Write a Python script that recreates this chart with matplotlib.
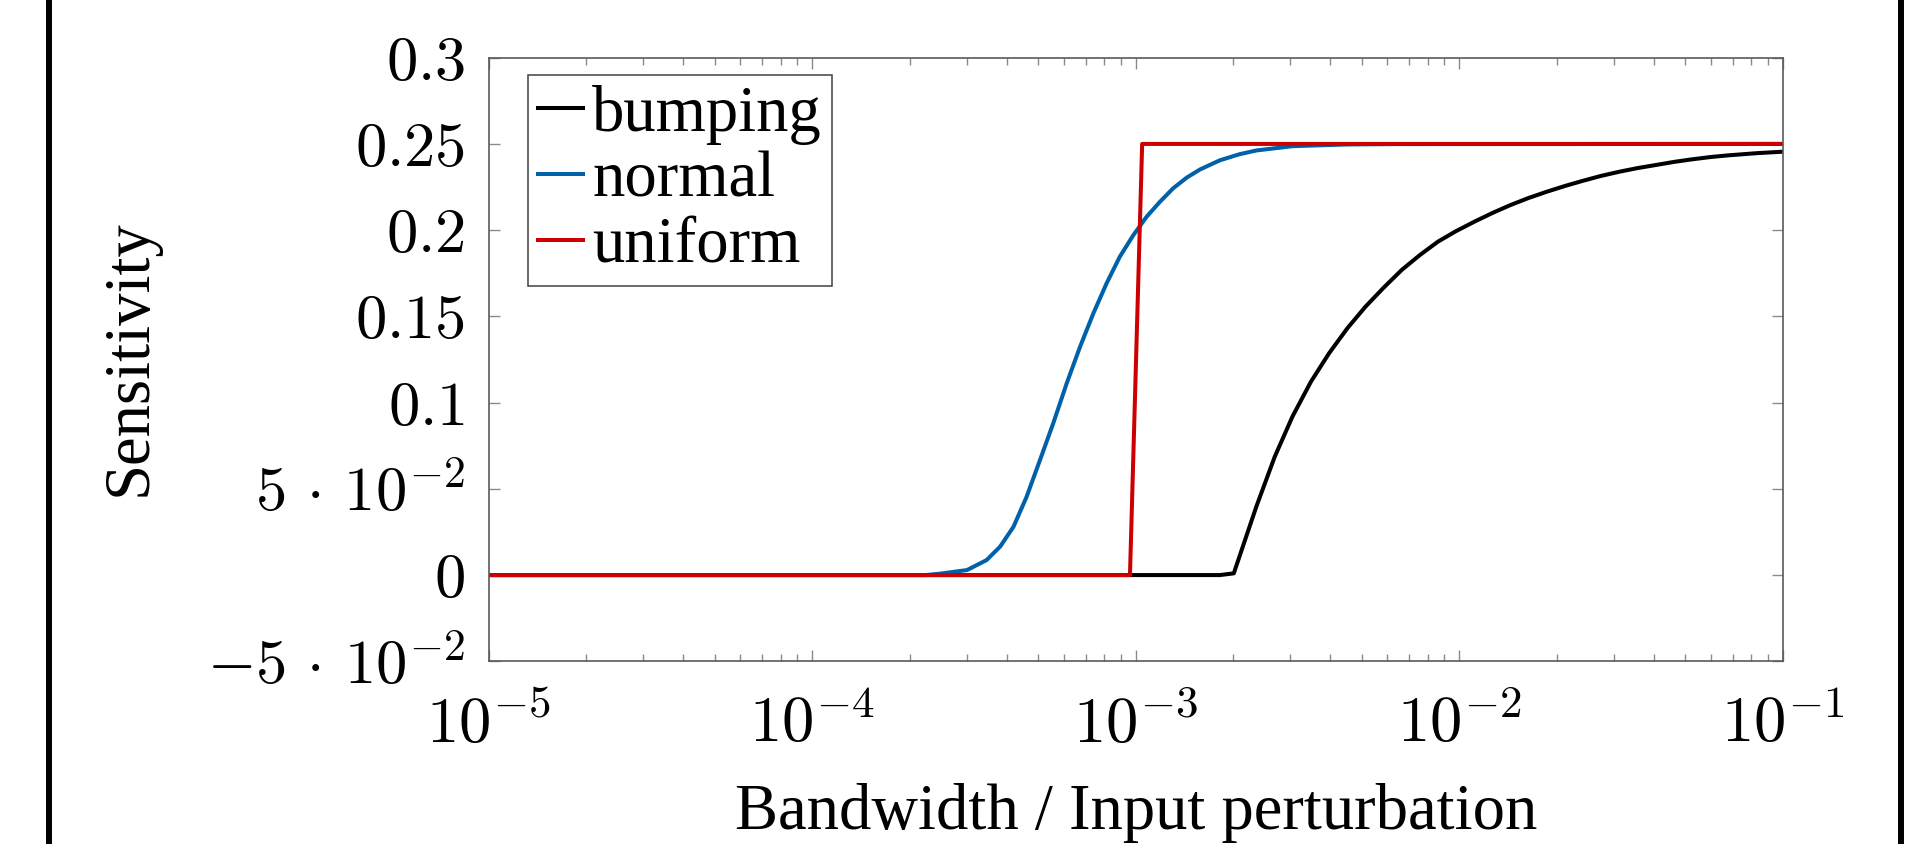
import matplotlib
matplotlib.use("Agg")
import matplotlib.pyplot as plt
from matplotlib.lines import Line2D
import numpy as np

plt.rcParams['font.family'] = ['Liberation Serif', 'DejaVu Serif']
plt.rcParams['mathtext.fontset'] = 'cm'

# values
bump_x = [1e-5, 1.82e-3, 2.01e-3, 2.36e-3, 2.69e-3, 3.05e-3, 3.48e-3, 3.96e-3, 4.51e-3,
          5.13e-3, 5.83e-3, 6.64e-3, 7.55e-3, 8.59e-3, 9.77e-3, 1.114e-2, 1.268e-2,
          1.442e-2, 1.641e-2, 1.866e-2, 2.13e-2, 2.42e-2, 2.75e-2, 3.13e-2, 3.56e-2,
          4.06e-2, 4.62e-2, 5.26e-2, 5.98e-2, 6.81e-2, 8.26e-2, 1e-1]
bump_y = [0, 0, 0.001, 0.0397, 0.0686, 0.0918, 0.1121, 0.1286, 0.1431,
          0.1556, 0.1665, 0.1769, 0.1855, 0.1933, 0.1994, 0.2049, 0.2100,
          0.2146, 0.2187, 0.2223, 0.2257, 0.2287, 0.2315, 0.2339, 0.2360,
          0.2378, 0.2396, 0.2411, 0.2424, 0.2434, 0.2446, 0.2455]

norm_x = [1e-5, 2.24e-4, 2.48e-4, 3.01e-4, 3.46e-4, 3.81e-4, 4.19e-4, 4.60e-4, 5.06e-4,
          5.56e-4, 6.12e-4, 6.73e-4, 7.40e-4, 8.13e-4, 8.93e-4, 9.84e-4, 1.081e-3,
          1.189e-3, 1.306e-3, 1.439e-3, 1.581e-3, 1.82e-3, 2.09e-3, 2.36e-3, 3.05e-3,
          4.51e-3, 6.31e-3, 1e-1]
norm_y = [0, 0, 0.0008, 0.0029, 0.0087, 0.0165, 0.028, 0.0454, 0.0667,
          0.088, 0.1112, 0.1324, 0.1518, 0.1692, 0.1846, 0.1972, 0.2078,
          0.2165, 0.2243, 0.2305, 0.2352, 0.2405, 0.2440, 0.2462, 0.2487,
          0.2497, 0.2499, 0.25]

unif_x = [1e-5, 9.6e-4, 1.047e-3, 1e-1]
unif_y = [0, 0, 0.25, 0.25]

xticks = [1e-5, 1e-4, 1e-3, 1e-2, 1e-1]
xticklabels = [r'$10^{-5}$', r'$10^{-4}$', r'$10^{-3}$', r'$10^{-2}$', r'$10^{-1}$']
yticks = [-0.05, 0, 0.05, 0.1, 0.15, 0.2, 0.25, 0.3]
yticklabels = [r'$-5\,\cdot\,10^{-2}$', r'$0$', r'$5\,\cdot\,10^{-2}$', r'$0.1$', r'$0.15$',
               r'$0.2$', r'$0.25$', r'$0.3$']

W, H = 1922, 844
fig = plt.figure(figsize=(W / 100, H / 100), dpi=100)
ax = fig.add_axes([488.7 / W, 1 - 661.3 / H, (1782.7 - 488.7) / W, (661.3 - 57.7) / H])

lw = 2.9
ax.plot(bump_x, bump_y, color='black', lw=lw, label='bumping')
ax.plot(norm_x, norm_y, color='#0060A8', lw=lw, label='normal')
ax.plot(unif_x, unif_y, color='#CC0000', lw=lw, label='uniform')

ax.set_xscale('log')
ax.set_xlim(1e-5, 1e-1)
ax.set_ylim(-0.05, 0.3)
ax.set_xticks(xticks)
ax.set_xticklabels(xticklabels)
ax.set_yticks(yticks)
ax.set_yticklabels(yticklabels)

for s in ax.spines.values():
    s.set_color('#5a5a5a')
    s.set_linewidth(1.2)
ax.tick_params(which='both', direction='in', top=True, right=True, color='#8a8a8a', width=1.0)
ax.tick_params(which='major', length=8)
ax.tick_params(which='minor', length=5)
ax.tick_params(axis='x', which='major', labelsize=46.5, pad=25)
ax.tick_params(axis='y', which='major', labelsize=45, pad=17)

leg = ax.legend(loc='upper left', bbox_to_anchor=(528.3 / W, 1 - 75 / H),
                bbox_transform=fig.transFigure, borderaxespad=0, fontsize=46.5,
                handlelength=0.7, handletextpad=0.14, labelspacing=0.1,
                borderpad=0.15, fancybox=False, framealpha=1)
leg.get_frame().set_edgecolor('#404040')
leg.get_frame().set_linewidth(1.1)

fig.text(130 / W, 1 - 358 / H, 'Sensitivity', rotation=90, ha='center', va='center', fontsize=46.5)
fig.text(1135.7 / W, 1 - 829 / H, 'Bandwidth / Input perturbation', ha='center', va='baseline',
         fontsize=46.5)

# black border lines at the sides
for xb in [48.9, 1900.9]:
    fig.add_artist(Line2D([xb / W, xb / W], [0, 1], color='black', lw=4.3,
                          transform=fig.transFigure))

fig.savefig('out.png', dpi=100)
